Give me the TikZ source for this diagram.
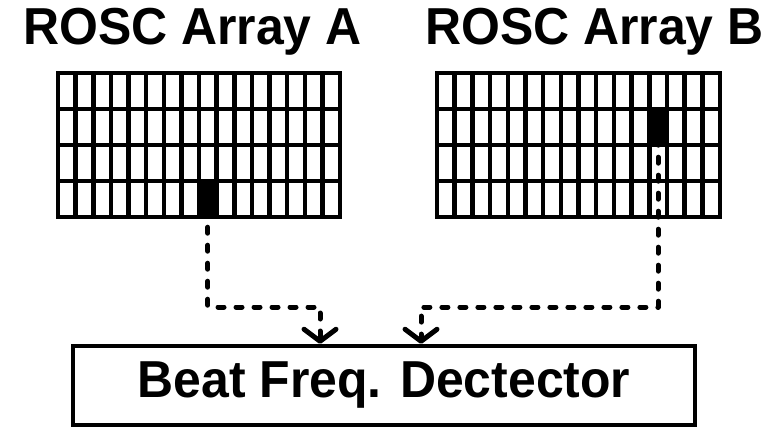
\documentclass[tikz,border=0pt]{standalone}
\usepackage{fontspec}
\setmainfont{Liberation Sans}
\newfontfamily\hfont[FakeStretch=0.96]{Liberation Sans}
\usetikzlibrary{arrows.meta}
\begin{document}
\begin{tikzpicture}[x=1pt,y=-1pt,
  gridline/.style={line width=4.5pt, line cap=rect, line join=miter},
  cellfill/.style={fill=black, draw=none, inner sep=0pt, minimum width=18pt, minimum height=36pt},
  titletext/.style={font=\hfont\fontsize{52}{60}\selectfont\bfseries, inner sep=0pt},
  detbox/.style={draw, line width=4.5pt, minimum width=622pt, minimum height=79pt, inner sep=0pt, font=\hfont\fontsize{52}{60}\selectfont\bfseries},
  sigline/.style={line width=5pt, line cap=round, line join=round, dash pattern=on 6pt off 12pt,
    -{Straight Barb[length=12pt,width=32pt,line width=5pt,round]}}
]
\useasboundingbox (0,0) rectangle (778,427);

% titles
\node[titletext, anchor=base west] (tA) at (23,45) {ROSC Array A};
\node[titletext, anchor=base west] (tB) at (425,45) {ROSC Array B};

% filled cells
\node[cellfill] (cellA) at ({58+8.5*17.625},{73+3.5*36}) {};
\node[cellfill] (cellB) at ({437+12.5*17.6875},{73+1.5*36}) {};

% grid A
\draw[gridline] (58,73) rectangle (340,217);
\foreach \i in {1,...,15} \draw[gridline] ({58+\i*17.625},73) -- ++(0,144);
\foreach \j in {1,2,3} \draw[gridline] (58,{73+\j*36}) -- (340,{73+\j*36});

% grid B
\draw[gridline] (437,73) rectangle (720,217);
\foreach \i in {1,...,15} \draw[gridline] ({437+\i*17.6875},73) -- ++(0,144);
\foreach \j in {1,2,3} \draw[gridline] (437,{73+\j*36}) -- (720,{73+\j*36});

% detector
\node[detbox] (det) at (384,385.5) {Beat Freq. Dectector};

% connectors
\coordinate (aTurn) at (cellA.center |- 0,307);
\coordinate (aIn) at (320,307);
\draw[sigline] ([yshift=8pt]cellA.south) -- (aTurn) -- (aIn) -- (aIn |- det.north);

\coordinate (bTurn) at (cellB.center |- 0,307);
\coordinate (bIn) at (421,307);
\draw[sigline] ([yshift=6pt]cellB.south) -- (bTurn) -- (bIn) -- (bIn |- det.north);
\end{tikzpicture}
\end{document}
